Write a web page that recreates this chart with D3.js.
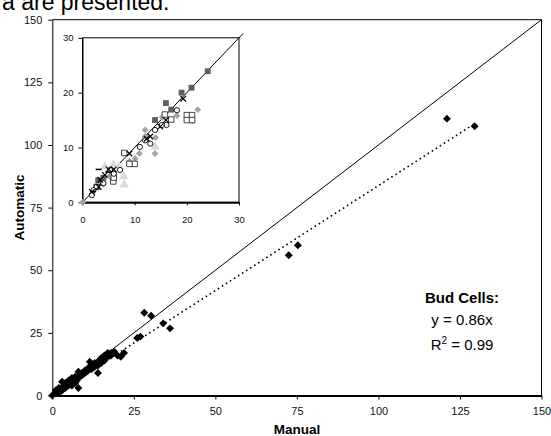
<!DOCTYPE html>
<html><head><meta charset="utf-8">
<script src="https://cdn.jsdelivr.net/npm/d3@7"></script>
<style>
html,body{margin:0;padding:0;background:#fff;overflow:hidden}
svg{display:block;font-family:"Liberation Sans",Arial,sans-serif}
</style></head>
<body>
<svg id="c" width="551" height="436"></svg>
<script>
// ---- data ----
const mainTicks = [0, 25, 50, 75, 100, 125, 150];
const insetTicks = [0, 10, 20, 30];
const budCells = [
  [0,0],[1,1],[1.5,2],[2,1],[2,3],[2.5,2],[3,5.5],[3,3],[3.5,4],[4,3],[4,5],[4.5,4],
  [5,4],[5,6],[5.5,5],[6,4],[6,7],[6.5,6],[7,5],[7,7.5],[7.5,6],[8,3],[8,7],[8,9.5],
  [8.5,8],[9,8],[9,9],[9.5,8.5],[10,9],[10,10],[10.5,9.5],[11,10],[11.5,13.5],[12,11],
  [12,12],[12.5,11.5],[13,12],[13,13],[13.5,12.5],[14,9],[14,12],[14,13.5],[14.5,14],
  [15,14],[15,15],[16,14],[16,15.5],[16.5,15],[17,16],[17,17],[18,16],[18,17],[19,17.5],
  [20,16],[21,15.5],[22,17],[26,23],[27,23.5],[28.2,33],[30.3,31.8],[34,28.8],[36.1,26.8],
  [72.5,56],[75.3,60],[121,110.5],[129.5,107.5],
  [1,2],[2,2.5],[3,2],[4,4],[5,5],[6,5.5],[7,6.5],[11,11],[12,10.5],[13,11.5],[15,13],[16,16]
];
const identityLine = [[0,0],[150,150]];
const trendLine = [[0,0],[129.5,108.5]];
const trendLabel = ["Bud Cells:", "y = 0.86x", "R", "2", " = 0.99"];

// inset series (0-30 range)
const darkSquares = [[24,23.9],[20.9,20.9],[19,20],[16,18.1],[17,16.9],[13.9,15],[3,4],[4,4.5]];
const grayDiamonds = [[22.1,16.9],[21.1,14.8],[18.1,15.8],[15.3,15.5],[12,13.2],[14,11.8],
  [13.9,8.9],[10.9,8.9],[10.1,8],[5.3,4.7],[4,3.3],[0,0],[6,5],[12,12],[9,7.5]];
const openSquares = [[20,15.9],[21,15.9],[20,15],[21,15],[17,15.1],[15.8,16],[10,7],
  [9,7],[8,9],[5.9,3.8],[2.7,2.8],[6,4.5]];
const openCircles = [[18.1,16.8],[16.1,14.1],[15.2,14.1],[13.9,13.2],[13,10.7],[11,10.1],
  [12,11.3],[7.2,5.9],[5.3,5.9],[2.7,2.8],[1.8,1.3],[2.1,2.2],[4,3.5],[6,5.2]];
const crosses = [[19.3,18.9],[16,15],[14.9,13.8],[12.3,11.6],[9,8.9],[4.3,5],[3.4,4.1],
  [3.1,2.8],[1.8,1.9],[5,6],[6,6],[13,12]];
const dashes = [[3.1,6],[5,5.5],[2,2]];
const lightTriangles = [[7.9,4.7],[8,3.2],[5.9,6.8],[4.3,6.5],[13.9,10.1],[7,6.5]];
const insetIdentity = [[0,0],[30.8,30.8]];

// ---- drawing ----
const svg = d3.select("#c");
const x = d3.scaleLinear().domain([0,150]).range([52.3,541.5]);
const y = d3.scaleLinear().domain([0,150]).range([395.5,19.7]);

svg.append("text").attr("x",2).attr("y",10).attr("font-size",23).attr("fill","#000")
  .text("a are presented.");

// frame top/right
svg.append("path").attr("d",`M${x(0)},${y(150)}H${x(150)}V${y(0)}`)
  .attr("fill","none").attr("stroke","#000").attr("stroke-width",1);

const xa = svg.append("g").attr("transform",`translate(0,${y(0)})`)
  .call(d3.axisBottom(x).tickValues(mainTicks).tickSize(4).tickSizeOuter(0).tickPadding(8));
xa.select(".domain").attr("stroke-width",2);
const ya = svg.append("g").attr("transform",`translate(${x(0)},0)`)
  .call(d3.axisLeft(y).tickValues(mainTicks).tickSize(4).tickSizeOuter(0).tickPadding(6));
[xa,ya].forEach(g=>{
  g.selectAll("text").attr("font-size",11).attr("font-family","Liberation Sans, Arial").attr("fill","#111");
  g.selectAll("line").attr("stroke","#000");
  g.select(".domain").attr("stroke","#000");
});

const line = d3.line().x(d=>x(d[0])).y(d=>y(d[1]));
svg.append("path").attr("d",line(identityLine)).attr("stroke","#000").attr("fill","none").attr("stroke-width",1);
svg.append("path").attr("d",line(trendLine)).attr("stroke","#000").attr("fill","none")
  .attr("stroke-width",1.6).attr("stroke-dasharray","1.6,3.2");

const diamond = d3.symbol().type(d3.symbolDiamond2).size(40);
svg.append("g").selectAll("path").data(budCells).join("path")
  .attr("d",diamond).attr("transform",d=>`translate(${x(d[0])},${y(d[1])})`).attr("fill","#000");

// axis titles
svg.append("text").attr("transform",`translate(24,${(y(0)+y(150))/2}) rotate(-90)`)
  .attr("text-anchor","middle").attr("font-weight","bold").attr("font-size",13.5).text("Automatic");
svg.append("text").attr("x",(x(0)+x(150))/2).attr("y",434).attr("text-anchor","middle")
  .attr("font-weight","bold").attr("font-size",13.5).text("Manual");

// annotation
svg.append("text").attr("x",462).attr("y",303).attr("text-anchor","middle")
  .attr("font-weight","bold").attr("font-size",15).text(trendLabel[0]);
svg.append("text").attr("x",462).attr("y",325).attr("text-anchor","middle")
  .attr("font-size",15).text(trendLabel[1]);
const r2 = svg.append("text").attr("x",462).attr("y",350).attr("text-anchor","middle").attr("font-size",15);
r2.append("tspan").text(trendLabel[2]);
r2.append("tspan").attr("dy",-6).attr("font-size",10).text(trendLabel[3]);
r2.append("tspan").attr("dy",6).text(trendLabel[4]);

// ---- inset ----
const ix = d3.scaleLinear().domain([0,30]).range([82.5,239]);
const iy = d3.scaleLinear().domain([0,30]).range([202.3,37.8]);
const ins = svg.append("g");
ins.append("rect").attr("x",ix(0)).attr("y",iy(30)).attr("width",ix(30)-ix(0)).attr("height",iy(0)-iy(30))
  .attr("fill","#fff").attr("stroke","#000").attr("stroke-width",1);
const ixa = ins.append("g").attr("transform",`translate(0,${iy(0)})`)
  .call(d3.axisBottom(ix).tickValues(insetTicks).tickSize(3).tickSizeOuter(0).tickPadding(11));
ixa.select(".domain").attr("stroke-width",2);
const iya = ins.append("g").attr("transform",`translate(${ix(0)},0)`)
  .call(d3.axisLeft(iy).tickValues(insetTicks).tickSize(4).tickSizeOuter(0).tickPadding(5));
[ixa,iya].forEach(g=>{
  g.selectAll("text").attr("font-size",9.5).attr("font-family","Liberation Sans, Arial").attr("fill","#111");
  g.selectAll("line").attr("stroke","#000");
  g.select(".domain").attr("stroke","#000");
});
const iline = d3.line().x(d=>ix(d[0])).y(d=>iy(d[1]));
ins.append("path").attr("d",iline(insetIdentity)).attr("stroke","#000").attr("fill","none").attr("stroke-width",1);

const tr = d=>`translate(${ix(d[0])},${iy(d[1])})`;
ins.append("g").selectAll("path").data(lightTriangles).join("path")
  .attr("d",d3.symbol().type(d3.symbolTriangle).size(38)).attr("transform",tr).attr("fill","#dadada");
ins.append("g").selectAll("path").data(grayDiamonds).join("path")
  .attr("d",d3.symbol().type(d3.symbolDiamond2).size(30)).attr("transform",tr).attr("fill","#a3a3a3");
ins.append("g").selectAll("path").data(darkSquares).join("path")
  .attr("d",d3.symbol().type(d3.symbolSquare).size(34)).attr("transform",tr).attr("fill","#5f5f5f");
ins.append("g").selectAll("path").data(openSquares).join("path")
  .attr("d",d3.symbol().type(d3.symbolSquare).size(30)).attr("transform",tr)
  .attr("fill","#fff").attr("stroke","#333").attr("stroke-width",0.9);
ins.append("g").selectAll("circle").data(openCircles).join("circle")
  .attr("cx",d=>ix(d[0])).attr("cy",d=>iy(d[1])).attr("r",2.6)
  .attr("fill","#fff").attr("stroke","#000").attr("stroke-width",0.9);
ins.append("g").selectAll("path").data(crosses).join("path")
  .attr("d",d3.symbol().type(d3.symbolX).size(22)).attr("transform",tr)
  .attr("fill","none").attr("stroke","#000").attr("stroke-width",1.2);
ins.append("g").selectAll("line").data(dashes).join("line")
  .attr("x1",d=>ix(d[0])-3).attr("x2",d=>ix(d[0])+3).attr("y1",d=>iy(d[1])).attr("y2",d=>iy(d[1]))
  .attr("stroke","#000").attr("stroke-width",1.5);
</script>
</body></html>
